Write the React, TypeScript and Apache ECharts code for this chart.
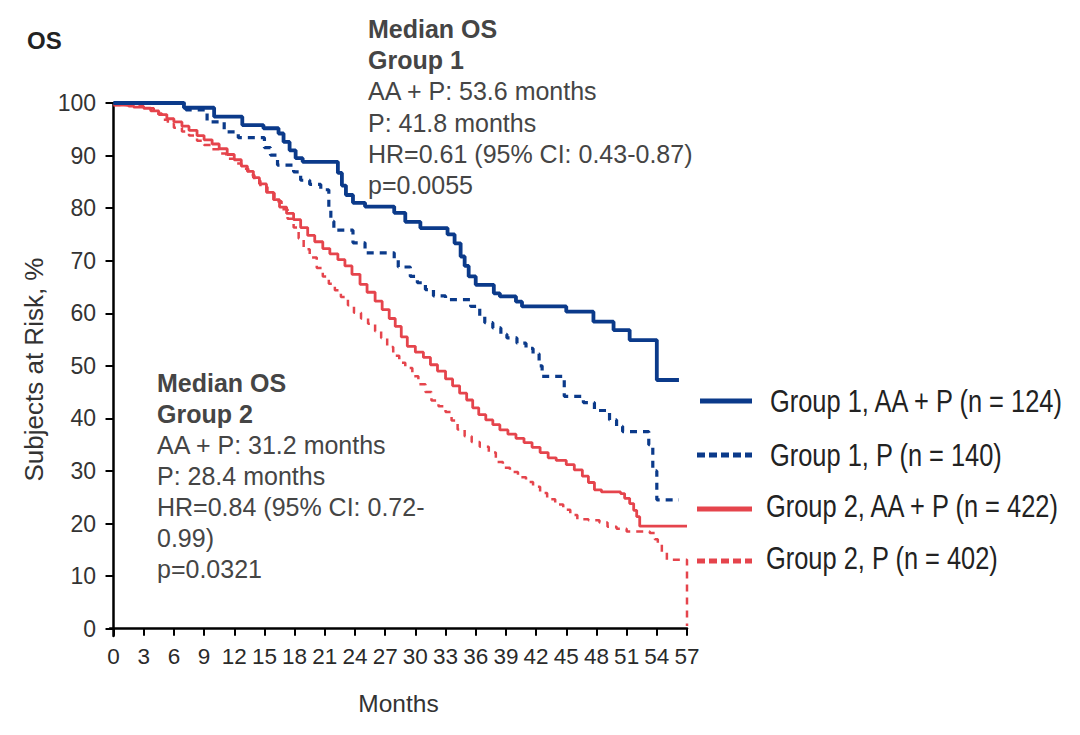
import React, { useEffect, useRef } from "react";
import * as echarts from "echarts";

const BLUE = "#0b3a8a";
const RED = "#e5444c";

const xTicks = [0, 3, 6, 9, 12, 15, 18, 21, 24, 27, 30, 33, 36, 39, 42, 45, 48, 51, 54, 57];
const yTicks = [0, 10, 20, 30, 40, 50, 60, 70, 80, 90, 100];

const seriesNames = [
  "Group 1, AA + P (n = 124)",
  "Group 1, P (n = 140)",
  "Group 2, AA + P (n = 422)",
  "Group 2, P (n = 402)",
];

// [month, % at risk]
const g1AA = [
  [0, 100], [7, 99.1], [10, 97.4], [12.8, 95.8], [14.9, 95.2], [16.4, 94.2], [16.9, 92.6],
  [17.5, 91], [18.1, 89.5], [18.8, 88.8], [22.3, 86.7], [22.7, 84.3], [23.1, 82.5], [23.8, 81],
  [25, 80.3], [27.9, 79.1], [29, 77.4], [30.5, 76.2], [33.2, 75], [33.9, 73.3], [34.5, 70.8],
  [34.9, 69], [35.3, 67], [36, 65.4], [37.8, 63.8], [38.4, 63.2], [40, 62.2], [40.6, 61.3],
  [45, 60.3], [47.7, 58.4], [49.7, 56.8], [51.3, 54.9], [54, 47.3], [56.2, 47.3],
];

const g1P = [
  [0, 100], [7.2, 98.7], [9.3, 96.4], [11, 94.5], [12.4, 93.4], [15, 91.5], [15.6, 90.1],
  [16.3, 88.2], [17.9, 86.9], [18.6, 85.3], [19.5, 84.5], [20.6, 83.5], [21.4, 80], [21.6, 77.5],
  [21.9, 75.8], [23.8, 73.4], [25, 71.5], [27.9, 70.3], [28.3, 68.8], [29.5, 67], [30.2, 65.8],
  [31, 64.5], [31.8, 63.3], [33, 62.6], [35.5, 61.3], [36.4, 59.5], [36.9, 58.2], [37.7, 57.2],
  [38.5, 56], [39.1, 55.3], [40.1, 54.3], [41, 53.3], [41.7, 52.3], [42.3, 50], [42.6, 48],
  [44.8, 44.2], [46.7, 43], [47.8, 41.5], [49.3, 39.7], [50, 38.5], [50.6, 37.5], [53.2, 35],
  [53.6, 30], [54, 24.5], [56.2, 24.5],
];

const g2AA = [
  [0, 99.6], [1, 99.5], [2, 99.2], [3, 99], [3.7, 98.5], [4.5, 97.8], [5.3, 97], [6, 96.4],
  [6.8, 95.6], [7.5, 94.8], [8.3, 93.8], [9, 93], [9.8, 92.2], [10.5, 91.3], [11.3, 90.2],
  [12, 89.2], [12.7, 88], [13.3, 87], [13.9, 85.8], [14.5, 84.6], [15.2, 83], [15.9, 81.6],
  [16.5, 80.2], [17.2, 79], [17.9, 77.8], [18.6, 76.3], [19.3, 74.8], [20, 73.6], [20.8, 72.3],
  [21.5, 71.3], [22.3, 70.2], [23, 69], [23.7, 67.4], [24.5, 65.5], [25.2, 64], [26, 62.3],
  [26.7, 60.7], [27.4, 59], [28, 57.5], [28.6, 55.5], [29.2, 53.7], [30, 52.6], [30.8, 51.6],
  [31.5, 50.2], [32.2, 49], [33, 47.5], [33.7, 46.2], [34.4, 44.8], [35.1, 43.5], [35.7, 42],
  [36.3, 40.7], [37, 39.7], [37.7, 38.8], [38.4, 37.8], [39.2, 37], [40, 36.2], [40.8, 35.4],
  [41.6, 34.5], [42.4, 33.5], [43.2, 32.5], [44, 32], [45, 31.2], [45.8, 30.2], [46.6, 29],
  [47.2, 27.8], [47.8, 26.4], [48.5, 26], [50.4, 25.7], [50.8, 24.8], [51.3, 23.8], [51.7, 22.5],
  [52, 21.3], [52.3, 19.5], [57, 19.5],
];

const g2P = [
  [0, 99.6], [1.5, 99.4], [3, 99], [4, 98], [4.8, 96.8], [5.4, 96], [6, 95.3], [6.8, 94.6],
  [7.5, 93.8], [8.3, 92.8], [9, 92], [9.8, 91.2], [10.5, 90.4], [11.2, 89.4], [12, 88.5],
  [12.7, 87.5], [13.4, 86.3], [14, 85.2], [14.6, 84], [15.3, 82.9], [16, 81.3], [16.7, 79.8],
  [17.3, 78], [17.9, 76.3], [18.4, 74.2], [18.9, 72.2], [19.5, 70.6], [20.2, 68.6], [20.8, 67],
  [21.4, 65.6], [22, 64.4], [22.6, 63.1], [23.3, 61.5], [23.9, 60.1], [24.6, 59], [25.3, 58],
  [26, 56.6], [26.6, 55.3], [27.2, 53.6], [27.8, 51.9], [28.4, 50.6], [29, 49.6], [29.7, 48],
  [30.3, 46.5], [31, 45], [31.6, 43.4], [32.3, 42.3], [33, 41.2], [33.6, 39.6], [34.2, 37.9],
  [34.9, 36.6], [35.6, 35.5], [36.4, 34.6], [37.3, 33.5], [38, 31.7], [38.7, 30.6], [39.4, 29.8],
  [40.2, 28.8], [41, 27.9], [41.7, 27], [42.4, 25.8], [43.1, 24.6], [43.9, 23.6], [44.7, 22.6],
  [45.4, 21.6], [46.1, 20.8], [47.2, 20.6], [48.3, 20.2], [49.1, 19.4], [50, 19], [51, 18.5],
  [53.3, 18.2], [53.8, 17], [54.1, 16], [54.5, 14.6], [55, 13.1], [57, 13], [57, 0.5],
];

const group1Lines = [
  "AA + P: 53.6 months",
  "P: 41.8 months",
  "HR=0.61 (95% CI: 0.43-0.87)",
  "p=0.0055",
];
const group2Lines = [
  "AA + P: 31.2 months",
  "P: 28.4 months",
  "HR=0.84 (95% CI: 0.72-",
  "0.99)",
  "p=0.0321",
];

const SANS = "'Liberation Sans', Arial, sans-serif";

function textBlock(x: number, y0: number, step: number, bold: string[], lines: string[]) {
  const out: any[] = [];
  const all = [...bold.map((t) => ({ t, b: true })), ...lines.map((t) => ({ t, b: false }))];
  all.forEach((it, i) => {
    out.push({
      type: "text",
      x,
      y: y0 + i * step,
      style: {
        text: it.t,
        fill: "#454545",
        font: `${it.b ? "bold " : ""}25px ${SANS}`,
        verticalAlign: "middle",
      },
    });
  });
  return out;
}

const legendLayout = [
  { y: 401, x1: 700, tx: 770, ty: 401, color: BLUE, dashed: false },
  { y: 455, x1: 697, tx: 770, ty: 455, color: BLUE, dashed: true },
  { y: 509, x1: 697, tx: 766, ty: 506, color: RED, dashed: false },
  { y: 561, x1: 697, tx: 766, ty: 558, color: RED, dashed: true },
];

function legendGraphics() {
  const out: any[] = [];
  legendLayout.forEach((l, i) => {
    out.push({
      type: "line",
      shape: { x1: l.x1, y1: l.y, x2: 752, y2: l.y },
      style: { stroke: l.color, lineWidth: 5, lineDash: l.dashed ? [8, 4] : null },
    });
    out.push({
      type: "text",
      x: l.tx,
      y: l.ty,
      scaleX: 0.82,
      style: {
        text: seriesNames[i],
        fill: "#222",
        font: `31px ${SANS}`,
        verticalAlign: "middle",
      },
    });
  });
  return out;
}

export default function App() {
  const ref = useRef<HTMLDivElement>(null);
  useEffect(() => {
    if (!ref.current) return;
    const chart = echarts.init(ref.current, undefined, { renderer: "svg" });
    const lineSeries = (name: string, data: number[][], color: string, width: number, dashed: boolean, z: number) => ({
      name,
      type: "line",
      step: "end",
      data,
      symbol: "none",
      z,
      itemStyle: { color },
      lineStyle: { color, width, type: dashed ? [7, 6] : "solid" },
    });
    chart.setOption({
      animation: false,
      backgroundColor: "#ffffff",
      grid: { left: 110, right: 393, top: 103, bottom: 99, containLabel: false },
      xAxis: {
        type: "value",
        min: -0.35,
        max: 57,
        splitLine: { show: false },
        axisLine: { show: true, lineStyle: { color: "#000", width: 2.5 } },
        axisTick: { show: true, customValues: xTicks, length: 7, lineStyle: { color: "#000", width: 2 } },
        axisLabel: { customValues: xTicks, color: "#2a2a2a", fontFamily: SANS, fontSize: 22.5, margin: 9 },
        name: "Months",
        nameLocation: "middle",
        nameGap: 55,
        nameTextStyle: { color: "#333", fontFamily: SANS, fontSize: 24.5 },
      },
      yAxis: {
        type: "value",
        min: -1.4,
        max: 100,
        splitLine: { show: false },
        axisLine: { show: true, lineStyle: { color: "#000", width: 2.5 } },
        axisTick: { show: true, customValues: yTicks, length: 8, lineStyle: { color: "#000", width: 2 } },
        axisLabel: { customValues: yTicks, color: "#333", fontFamily: SANS, fontSize: 23, margin: 14 },
        name: "Subjects at Risk, %",
        nameLocation: "middle",
        nameGap: 60,
        nameTextStyle: { color: "#333", fontFamily: SANS, fontSize: 26 },
      },
      graphic: [
        {
          type: "text",
          x: 27,
          y: 40,
          style: { text: "OS", fill: "#222", font: `bold 24px ${SANS}`, verticalAlign: "middle" },
        },
        ...textBlock(368, 29, 31.2, ["Median OS", "Group 1"], group1Lines),
        ...textBlock(157, 383, 31, ["Median OS", "Group 2"], group2Lines),
        ...legendGraphics(),
      ],
      series: [
        lineSeries(seriesNames[3], g2P, RED, 2.5, true, 2),
        lineSeries(seriesNames[2], g2AA, RED, 2.8, false, 3),
        lineSeries(seriesNames[1], g1P, BLUE, 3.2, true, 4),
        lineSeries(seriesNames[0], g1AA, BLUE, 3.8, false, 5),
      ],
    });
    return () => chart.dispose();
  }, []);
  return (
    <div
      ref={ref}
      style={{ position: "absolute", left: 0, top: 0, width: 1080, height: 735, background: "#fff" }}
    />
  );
}
